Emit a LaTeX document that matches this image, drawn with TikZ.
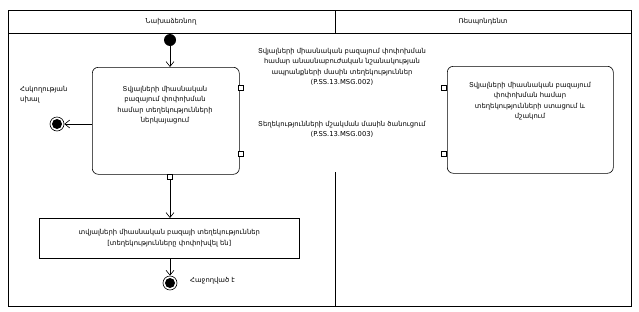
\documentclass[tikz,border=0pt]{standalone}
\usepackage{fontspec}
\setmainfont{DejaVu Sans}
\usetikzlibrary{arrows.meta,positioning}
\tikzset{
  lane/.style={draw, line width=0.6pt},
  act/.style={draw, line width=0.6pt, rounded corners=6pt, fill=white},
  obj/.style={draw, line width=0.6pt, fill=white},
  pin/.style={draw, line width=0.5pt, fill=white, minimum size=5pt, inner sep=0pt},
  txt/.style={font=\fontsize{6.8}{10.4}\selectfont, align=center, inner sep=0pt},
  flow/.style={draw, line width=0.6pt, -{Straight Barb[length=5pt,width=8pt]}},
}
\begin{document}
\begin{tikzpicture}[x=1pt,y=-1pt]
\useasboundingbox (0,0) rectangle (639,311);
\fill[white] (0,0) rectangle (639,311);
% swimlanes
\draw[lane] (8,10) rectangle (631,306);
\draw[lane] (8,33) -- (631,33);
\draw[lane] (335,10) -- (335,33);
\draw[lane] (335,172) -- (335,306);
\node[txt] (h1) at (171,22) {Նախաձեռնող};
\node[txt] (h2) at (483,22) {Ռեսպոնդենտ};
% initial node
\node[circle, fill=black, minimum size=12pt, inner sep=0pt] (start) at (170,40) {};
% activity 1
\node[act, minimum width=147pt, minimum height=107pt, anchor=north west] (a1) at (92,67) {};
\node[txt] (a1t) at (165,105) {Տվյալների միասնական\\բազայում փոփոխման\\համար տեղեկությունների\\ներկայացում};
\node[pin] (p1) at (241,88) {};
\node[pin] (p2) at (241,154) {};
\node[pin] (p3) at (170,177) {};
\draw[flow] (start) -- (a1.north -| start);
% activity 2
\node[act, minimum width=166pt, minimum height=107pt, anchor=north west] (a2) at (447,66) {};
\node[txt] (a2t) at (530,101) {Տվյալների միասնական բազայում\\փոփոխման համար\\տեղեկությունների ստացում և\\մշակում};
\node[pin] (q1) at (444,88) {};
\node[pin] (q2) at (444,154) {};
% messages
\node[txt] (m1) at (342,67) {Տվյալների միասնական բազայում փոփոխման\\համար անասնաբուժական նշանակության\\ապրանքների մասին տեղեկություններ\\(P.SS.13.MSG.002)};
\node[txt] (m2) at (342,129.5) {Տեղեկությունների մշակման մասին ծանուցում\\(P.SS.13.MSG.003)};
% flow final (error)
\node[circle, draw, line width=0.6pt, minimum size=14pt, inner sep=0pt, fill=white] (err) at (57,124) {};
\node[circle, fill=black, minimum size=10pt, inner sep=0pt] (erri) at (err.center) {};
\node[txt, align=left, anchor=north west] (errl) at (20,86) {Հսկողության\\սխալ};
\draw[flow] (a1.west |- err) -- (err);
% object node
\node[obj, minimum width=260pt, minimum height=40pt, anchor=north west] (o1) at (39,218) {};
\node[txt] (o1t) at (o1.center) {տվյալների միասնական բազայի տեղեկություններ\\{[}տեղեկությունները փոփոխվել են{]}};
\draw[flow] (p3) -- (o1.north -| p3);
% final node
\node[circle, draw, line width=0.6pt, minimum size=14pt, inner sep=0pt, fill=white] (fin) at (170,283) {};
\node[circle, fill=black, minimum size=10pt, inner sep=0pt] (fini) at (fin.center) {};
\node[txt, anchor=west] (finl) at (190,281) {Հաջողված է};
\draw[flow] (o1.south -| fin) -- (fin);
\end{tikzpicture}
\end{document}
